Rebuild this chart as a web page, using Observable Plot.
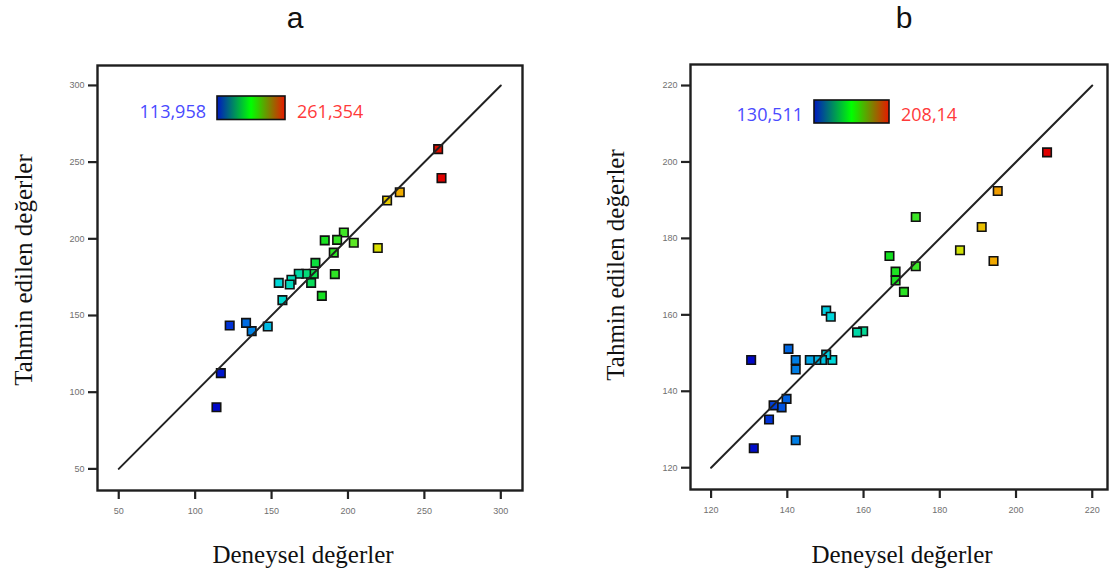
<!DOCTYPE html>
<html>
<head>
<meta charset="utf-8">
<script src="https://cdn.jsdelivr.net/npm/d3@7"></script>
<script src="https://cdn.jsdelivr.net/npm/@observablehq/plot@0.6"></script>
<style>
  body { margin: 0; background: #fff; }
  #wrap { position: relative; width: 1117px; height: 577px; overflow: hidden; background: #fff; }
  #wrap > svg.plot { position: absolute; }
  #overlay { position: absolute; left: 0; top: 0; pointer-events: none; }
</style>
</head>
<body>
<div id="wrap"></div>
<script>
// ---------- data ----------
const panelTitles = ["a", "b"];
const xTitle = "Deneysel değerler";
const yTitle = "Tahmin edilen değerler";

// panel a : actual (x) and predicted (y)
const aActual = [259.0, 261.2, 233.9, 225.6, 219.5, 197.3, 203.8, 192.9, 184.8, 190.7, 191.4, 178.7, 177.6, 172.6,
                 167.8, 175.9, 182.9, 163.0, 161.9, 154.7, 157.1, 147.5, 137.0, 133.3, 122.6, 116.8, 113.958];
const aPred   = [258.5, 239.6, 230.4, 225.0, 194.0, 204.1, 197.4, 199.3, 199.0, 191.0, 177.0, 184.3, 177.2, 177.2,
                 177.2, 171.3, 162.8, 173.3, 170.2, 171.3, 160.0, 142.8, 139.8, 145.2, 143.5, 112.4, 90.2];
const aTicks = [50, 100, 150, 200, 250, 300];
const aDiag = [50, 300];
const aMin = 113.958, aMax = 261.354;
const aMinLabel = "113,958", aMaxLabel = "261,354";

// panel b
const bActual = [208.14, 195.2, 191.0, 194.1, 185.3, 173.7, 173.7, 166.8, 168.4, 168.4, 170.6, 159.9, 158.3, 150.2,
                 151.4, 151.8, 150.2, 149.1, 147.6, 145.9, 140.3, 142.2, 142.2, 130.511, 139.8, 138.5, 136.4, 135.2, 142.2, 131.2];
const bPred   = [202.5, 192.4, 183.0, 174.1, 176.9, 185.6, 172.7, 175.4, 171.3, 169.0, 166.0, 155.7, 155.4, 161.1,
                 159.5, 148.2, 149.6, 148.2, 148.2, 148.2, 151.1, 148.2, 145.7, 148.2, 138.0, 135.8, 136.3, 132.6, 127.2, 125.1];
const bTicks = [120, 140, 160, 180, 200, 220];
const bDiag = [120, 220];
const bMin = 130.511, bMax = 208.14;
const bMinLabel = "130,511", bMaxLabel = "208,14";

// colour map (fraction of range -> colour)
const cStops  = [0, 0.1, 0.18, 0.27, 0.37, 0.46, 0.6, 0.72, 0.82, 1];
const cColors = ["#0008c8", "#0050e0", "#0098e8", "#00d8dc", "#00d8a0", "#10e020", "#50e828", "#e0e000", "#f0a800", "#e00000"];

// ---------- drawing ----------
const wrap = document.getElementById("wrap");

function panel(actual, pred, ticks, diag, vmin, vmax, minLabel, maxLabel, cfg) {
  const data = actual.map((v, i) => ({actual: v, pred: pred[i]}));
  const chart = Plot.plot({
    width: cfg.width, height: cfg.height,
    marginLeft: cfg.ml, marginRight: cfg.mr, marginTop: cfg.mt, marginBottom: cfg.mb,
    style: {background: "transparent", fontFamily: "'Liberation Sans', Arial, sans-serif", fontSize: "9px"},
    x: {domain: cfg.xd, ticks: ticks},
    y: {domain: cfg.yd, ticks: ticks},
    color: {type: "linear", domain: cStops.map(t => vmin + t * (vmax - vmin)), range: cColors, interpolate: "rgb"},
    marks: [
      Plot.frame({stroke: "#1e1e1e", strokeWidth: 2.4}),
      Plot.axisX({ticks: ticks, tickSize: 9, tickPadding: 8, label: null, stroke: "#222", strokeWidth: 2.2, strokeOpacity: 1, fill: "#707070", fontSize: 9}),
      Plot.axisY({ticks: ticks, tickSize: 9, tickPadding: 4, label: null, stroke: "#222", strokeWidth: 2.2, strokeOpacity: 1, fill: "#707070", fontSize: 9}),
      Plot.dot(data, {x: "actual", y: "pred", symbol: "square", r: 4.8, fill: "actual", stroke: "#111", strokeWidth: 1.6}),
      Plot.line(diag, {x: d => d, y: d => d, stroke: "#222", strokeWidth: 2})
    ]
  });
  chart.classList.add("plot");
  chart.style.left = cfg.left + "px";
  chart.style.top = cfg.top + "px";
  wrap.appendChild(chart);

  // gradient legend inside the plot frame
  const svg = d3.select(chart);
  const gid = "grad" + cfg.id;
  const g = svg.append("defs").append("linearGradient").attr("id", gid);
  g.append("stop").attr("offset", "0%").attr("stop-color", "#0018c0");
  g.append("stop").attr("offset", "50%").attr("stop-color", "#00ff00");
  g.append("stop").attr("offset", "100%").attr("stop-color", "#e81800");
  const L = cfg.legend;
  svg.append("rect").attr("x", L.rx).attr("y", L.ry).attr("width", L.rw).attr("height", L.rh)
    .attr("fill", `url(#${gid})`).attr("stroke", "#111").attr("stroke-width", 1.6);
  svg.append("text").attr("x", L.rx - 11).attr("y", L.base).attr("text-anchor", "end")
    .attr("fill", "#4a4aff").attr("font-family", "'Open Sans', sans-serif").attr("font-size", 18).text(minLabel);
  svg.append("text").attr("x", L.rx + L.rw + 12).attr("y", L.base).attr("text-anchor", "start")
    .attr("fill", "#ff3a3a").attr("font-family", "'Open Sans', sans-serif").attr("font-size", 18).text(maxLabel);
}

panel(aActual, aPred, aTicks, aDiag, aMin, aMax, aMinLabel, aMaxLabel, {
  id: "a", left: 40, top: 40, width: 500, height: 490, ml: 57, mr: 18, mt: 25, mb: 40,
  xd: [36.1, 314.2], yd: [35.9, 313],
  legend: {rx: 177, ry: 56, rw: 68, rh: 23.5, base: 77.5}
});
panel(bActual, bPred, bTicks, bDiag, bMin, bMax, bMinLabel, bMaxLabel, {
  id: "b", left: 630, top: 40, width: 487, height: 490, ml: 60, mr: 10, mt: 24, mb: 41,
  xd: [114.6, 224], yd: [114.3, 225.5],
  legend: {rx: 184, ry: 60, rw: 75, rh: 23, base: 81}
});

// titles & axis titles
const ov = d3.select(wrap).append("svg").attr("id", "overlay").attr("width", 1117).attr("height", 577);
const serif = "'Liberation Serif', 'Times New Roman', serif";
[[295, panelTitles[0]], [904, panelTitles[1]]].forEach(([x, t]) =>
  ov.append("text").attr("x", x).attr("y", 27.5).attr("text-anchor", "middle")
    .attr("font-family", "'Liberation Sans', Arial, sans-serif").attr("font-size", 30).attr("fill", "#111").text(t));
[[303, 563], [902, 563]].forEach(([x, y]) =>
  ov.append("text").attr("x", x).attr("y", y).attr("text-anchor", "middle")
    .attr("font-family", serif).attr("font-size", 25).attr("fill", "#111").text(xTitle));
[[32, 270], [624, 265]].forEach(([x, y]) =>
  ov.append("text").attr("transform", `translate(${x},${y}) rotate(-90)`).attr("text-anchor", "middle")
    .attr("font-family", serif).attr("font-size", 25).attr("fill", "#111").text(yTitle));
</script>
</body>
</html>
